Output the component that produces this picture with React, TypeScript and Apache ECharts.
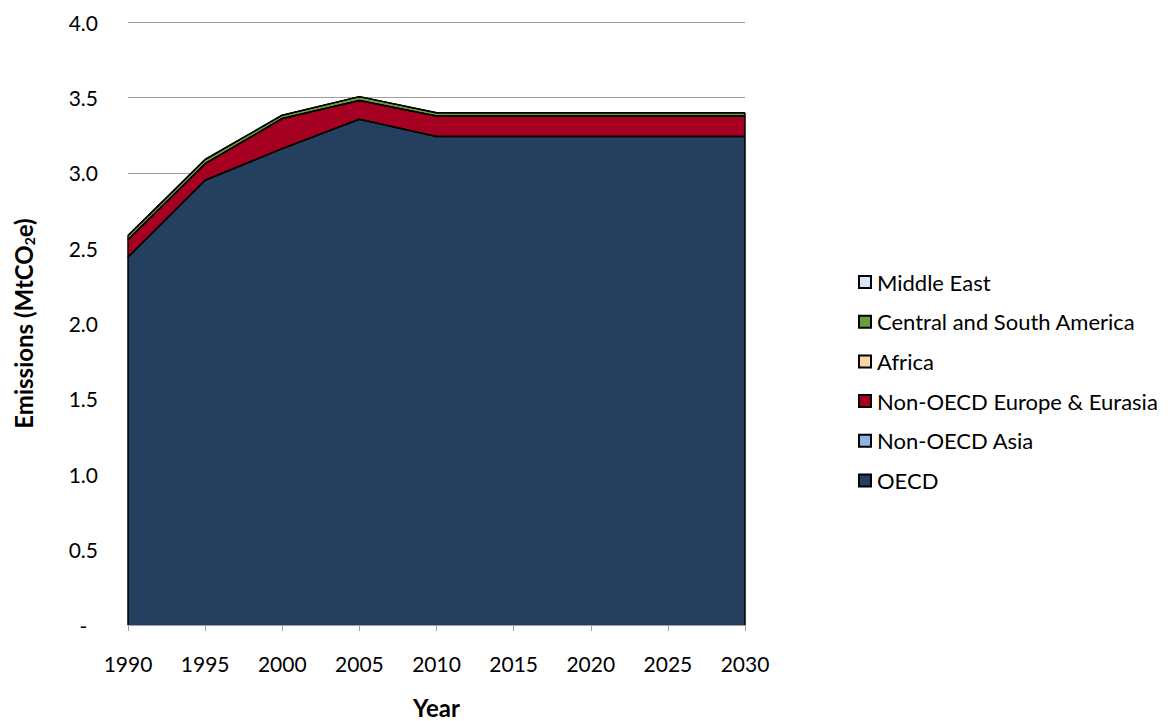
import React, { useEffect, useRef } from "react";
import * as echarts from "echarts";

const years = ["1990", "1995", "2000", "2005", "2010", "2015", "2020", "2025", "2030"];
const oecd = [2.44, 2.95, 3.16, 3.355, 3.24, 3.24, 3.24, 3.24, 3.24];
const nonOecdAsia = [0, 0, 0, 0, 0, 0, 0, 0, 0];
const nonOecdEurope = [0.115, 0.11, 0.2, 0.124, 0.136, 0.136, 0.136, 0.136, 0.136];
const africa = [0, 0, 0, 0, 0, 0, 0, 0, 0];
const centralSouthAmerica = [0.028, 0.028, 0.022, 0.026, 0.022, 0.022, 0.022, 0.022, 0.022];
const middleEast = [0, 0, 0, 0, 0, 0, 0, 0, 0];

const seriesNames = [
  "OECD",
  "Non-OECD Asia",
  "Non-OECD Europe & Eurasia",
  "Africa",
  "Central and South America",
  "Middle East",
];
const seriesValues = [oecd, nonOecdAsia, nonOecdEurope, africa, centralSouthAmerica, middleEast];
const seriesColors = ["#253F5F", "#8EB4E3", "#A50021", "#FCD5A5", "#6A9F35", "#DCE6F2"];
const legendOrder = [...seriesNames].reverse();

const FONT = "Lato, 'DejaVu Sans', sans-serif";

export default function App() {
  const ref = useRef<HTMLDivElement>(null);
  useEffect(() => {
    if (!ref.current) return;
    const chart = echarts.init(ref.current, undefined, { renderer: "svg" });
    const totals = years.map((_, i) => seriesValues.reduce((s, arr) => s + arr[i], 0));
    const stackSeries = seriesNames.map((name, k) => ({
      name,
      type: "line",
      stack: "total",
      data: seriesValues[k],
      symbol: "none",
      lineStyle: { color: "#000", width: 1.5 },
      areaStyle: { color: seriesColors[k], opacity: 1 },
      itemStyle: { color: seriesColors[k], borderColor: "#000", borderWidth: 1 },
      z: 2,
    }));
    const edge = (idx: number) => ({
      type: "line",
      data: [
        [years[idx], 0],
        [years[idx], totals[idx]],
      ],
      symbol: "none",
      lineStyle: { color: "#000", width: 1.5 },
      silent: true,
      z: 3,
    });
    chart.setOption({
      animation: false,
      backgroundColor: "#fff",
      grid: { left: 128, right: 426, top: 22, bottom: 96, outerBoundsMode: "none", containLabel: false },
      legend: {
        data: legendOrder,
        orient: "vertical",
        left: 853,
        top: 266,
        itemWidth: 12,
        itemHeight: 12,
        itemGap: 17.7,
        icon: "rect",
        textStyle: { fontFamily: FONT, fontSize: 22, color: "#000", padding: [0, 0, 0, 1] },
      },
      xAxis: {
        type: "category",
        data: years,
        boundaryGap: false,
        name: "Year",
        nameLocation: "middle",
        nameGap: 70,
        nameTextStyle: { fontFamily: FONT, fontSize: 24, fontWeight: "bold", color: "#000" },
        axisLine: { show: true, lineStyle: { color: "#a0a0a0", width: 1 } },
        axisTick: { show: true, length: 6, alignWithLabel: true, lineStyle: { color: "#a0a0a0" } },
        axisLabel: {
          fontFamily: FONT,
          fontSize: 21,
          color: "#000",
          margin: 28,
        },
        splitLine: { show: false },
      },
      yAxis: {
        type: "value",
        min: 0,
        max: 4,
        interval: 0.5,
        name: "{a|Emissions (MtCO}{s|2}{a|e)}",
        nameLocation: "middle",
        nameGap: 92,
        nameTextStyle: {
          rich: {
            a: { fontFamily: FONT, fontSize: 24, fontWeight: "bold", color: "#000" },
            s: { fontFamily: FONT, fontSize: 14, fontWeight: "bold", color: "#000", padding: [12, 0, 0, 0] },
          },
        },
        axisLine: { show: false },
        axisTick: { show: false },
        axisLabel: {
          fontFamily: FONT,
          fontSize: 21,
          color: "#000",
          margin: 30,
          formatter: (v: number) => (v === 0 ? "-  " : v.toFixed(1)),
        },
        splitLine: { show: true, lineStyle: { color: "#a0a0a0", width: 1 } },
      },
      series: [...stackSeries, edge(0), edge(years.length - 1)],
    });
    return () => chart.dispose();
  }, []);
  return (
    <div
      ref={ref}
      style={{ position: "fixed", left: 0, top: 0, width: 1171, height: 721, background: "#fff" }}
    />
  );
}
